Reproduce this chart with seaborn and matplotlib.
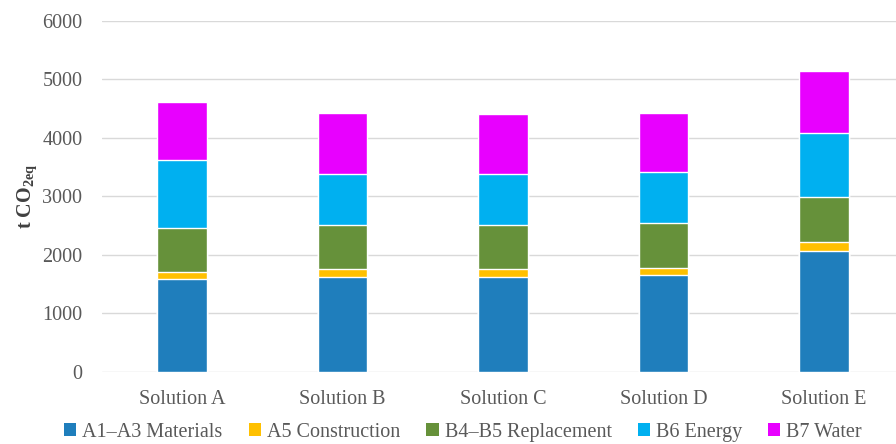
import matplotlib
matplotlib.use("Agg")
import matplotlib.pyplot as plt
from matplotlib.patches import Patch
import numpy as np
import pandas as pd
import seaborn as sns

solutions = ["Solution A", "Solution B", "Solution C", "Solution D", "Solution E"]
stages = ["A1\u2013A3 Materials", "A5 Construction", "B4\u2013B5 Replacement", "B6 Energy", "B7 Water"]
materials = [1590, 1630, 1630, 1652, 2074]
construction = [119, 131, 131, 131, 154]
replacement = [758, 752, 746, 770, 758]
energy = [1157, 866, 872, 866, 1099]
water = [997, 1054, 1037, 1014, 1065]
colors = ["#1F7EBC", "#FFC000", "#66913A", "#00B0F0", "#E800FF"]

sns.set_theme(style="white")
plt.rcParams["font.family"] = ["Liberation Serif", "DejaVu Serif"]
plt.rcParams["mathtext.fontset"] = "custom"
plt.rcParams["mathtext.rm"] = "Liberation Serif"
plt.rcParams["mathtext.bf"] = "Liberation Serif:bold"

values = np.array([materials, construction, replacement, energy, water], dtype=float)
cumulative = np.cumsum(values, axis=0)

fig = plt.figure(figsize=(8.96, 4.44), dpi=100)
ax = fig.add_axes([0.1136, 0.1622, 0.8954, 0.7905])

# stacked bars: draw the running totals from the top segment downwards
for i in range(len(stages) - 1, -1, -1):
    df = pd.DataFrame({"solution": solutions, "total": cumulative[i]})
    sns.barplot(data=df, x="solution", y="total", color=colors[i],
                saturation=1, width=0.31, ax=ax, zorder=3)

ax.set_ylim(0, 6000)
ax.set_xlim(-0.5, 4.5)
ax.set_yticks(range(0, 6001, 1000))
ax.grid(axis="y", color="#D9D9D9", linewidth=1.0, zorder=0)
ax.grid(axis="x", visible=False)
for s in ax.spines.values():
    s.set_visible(False)
ax.tick_params(axis="y", length=0, pad=14, labelsize=14.5, labelcolor="#595959")
ax.tick_params(axis="x", length=0, pad=13, labelsize=14.5, labelcolor="#595959")
ax.set_xlabel("")
ax.set_ylabel(r"t CO$_{\mathbf{2eq}}$", fontsize=14.5, fontweight="bold",
              color="#404040")
ax.yaxis.set_label_coords(-0.078, 0.5)

handles = [Patch(facecolor=c, edgecolor="none") for c in colors]
fig.legend(handles, stages, loc="center", bbox_to_anchor=(0.517, 0.027),
           ncol=5, frameon=False, fontsize=14.5, handlelength=0.6,
           handleheight=0.6, handletextpad=0.3, columnspacing=1.3,
           labelcolor="#595959")

fig.savefig("out.png", dpi=100)
